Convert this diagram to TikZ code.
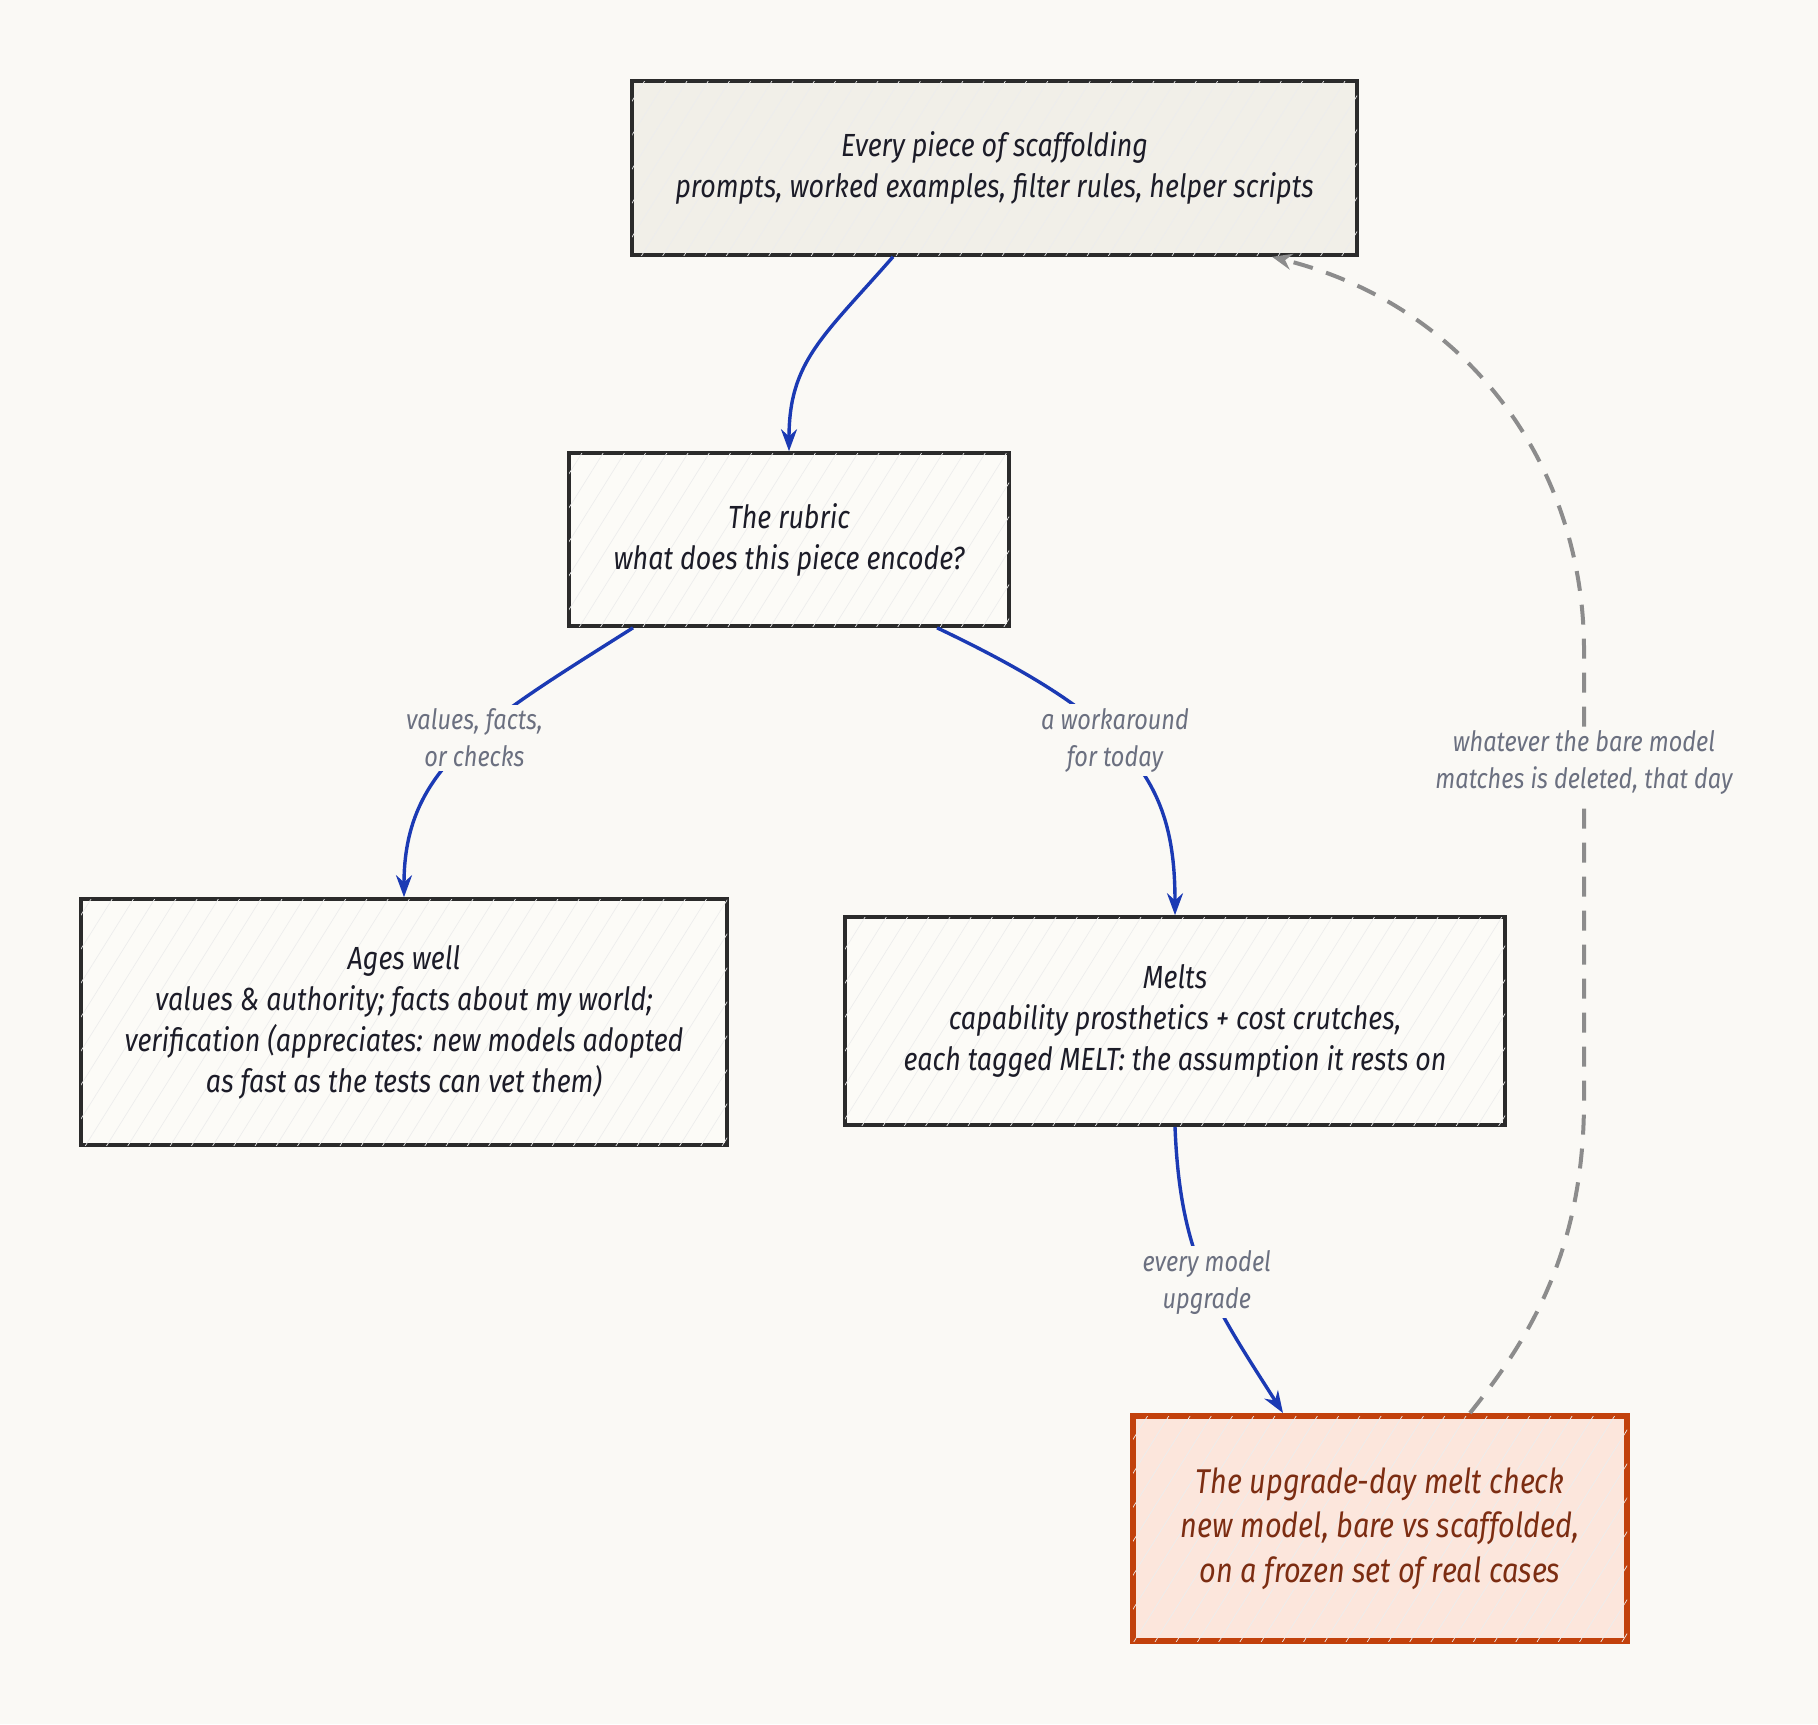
\documentclass[tikz,border=0pt]{standalone}
\usepackage{fontspec}
\usepackage{xcolor}
\usepackage{tikz}
\usetikzlibrary{arrows.meta,patterns.meta}

\newfontfamily\handfont{Fira Sans}[FakeStretch=0.84]
\definecolor{paper}{HTML}{FAF9F5}
\definecolor{ink}{HTML}{1C1C28}
\definecolor{frame}{HTML}{2B2B2B}
\definecolor{topfill}{HTML}{F1EFE8}
\definecolor{boxfill}{HTML}{FCFBF7}
\definecolor{flowblue}{HTML}{1B3AB4}
\definecolor{notegray}{HTML}{6B7080}
\definecolor{loopgray}{HTML}{8C8C8C}
\definecolor{meltline}{HTML}{C2410C}
\definecolor{meltfill}{HTML}{FCE6DC}
\definecolor{meltink}{HTML}{7C2D12}

\begin{document}
\begin{tikzpicture}
		[
			x=0.5pt,y=-0.5pt,
			box/.style={
					draw=frame,line width=1.8pt,fill=boxfill,align=center,text=ink,
					font=\handfont\itshape\fontsize{16}{20.5}\selectfont,
					postaction={pattern color=black!7,pattern={Lines[angle=58,distance=9pt,line width=0.35pt]}}},
			topbox/.style={box,fill=topfill},
			meltbox/.style={box,draw=meltline,line width=3pt,fill=meltfill,text=meltink,
					font=\handfont\itshape\fontsize{17.2}{22.3}\selectfont},
			note/.style={fill=paper,text=notegray,align=center,inner sep=2pt,
					font=\handfont\itshape\fontsize{14}{18.5}\selectfont},
			flow/.style={draw=flowblue,line width=1.7pt,-{Stealth[length=11pt,width=8pt]}},
			loop/.style={draw=loopgray,line width=2pt,dash pattern=on 10pt off 7pt,
					-{Stealth[length=10pt,width=8pt]}}]
		\useasboundingbox (0,0) rectangle (1818,1724);
		\fill[paper] (0,0) rectangle (1818,1724);

		\node[topbox,minimum width=362.5pt,minimum height=87pt] (scaffold) at (994.5,168)
			{Every piece of scaffolding\\prompts, worked examples, filter rules, helper scripts};
		\node[box,minimum width=220pt,minimum height=86.5pt] (rubric) at (789,539.5)
			{The rubric\\what does this piece encode?};
		\node[box,minimum width=323pt,minimum height=123pt] (ageswell) at (404,1022)
			{Ages well\\values \& authority; facts about my world;\\verification (appreciates: new models adopted\\as fast as the tests can vet them)};
		\node[box,minimum width=330pt,minimum height=104pt] (melts) at (1175,1021)
			{Melts\\capability prosthetics + cost crutches,\\each tagged MELT: the assumption it rests on};
		\node[meltbox,minimum width=247pt,minimum height=112.5pt] (meltcheck) at (1380,1528.5)
			{The upgrade-day melt check\\new model, bare vs scaffolded,\\on a frozen set of real cases};

		\draw[flow] ([xshift=-50.75pt]scaffold.south) .. controls +(-70,80) and +(0,-90) .. (rubric.north);
		\draw[flow] ([xshift=-78pt]rubric.south) .. controls +(-150,95) and +(0,-130) ..
			node[note,pos=0.45] (lblkeep) {values, facts,\\or checks} (ageswell.north);
		\draw[flow] ([xshift=74pt]rubric.south) .. controls +(200,95) and +(0,-130) ..
			node[note,pos=0.43] (lbltoday) {a workaround\\for today} (melts.north);
		\draw[flow] (melts.south) .. controls +(5,130) and +(-70,-110) ..
			node[note,pos=0.52] (lblupgrade) {every model\\upgrade} ([xshift=-48.5pt]meltcheck.north);

		% back to the top on upgrade day
		\coordinate (bendlow) at (1584,1100);
		\coordinate (bendhigh) at (1584,650);
		\draw[loop] ([xshift=45pt]meltcheck.north) .. controls +(60,-75) and +(0,150) .. (bendlow)
			-- node[note,pos=0.75] (lbldelete) {whatever the bare model\\matches is deleted, that day} (bendhigh)
			.. controls +(0,-180) and +(200,50) .. ([xshift=138.75pt]scaffold.south);
	\end{tikzpicture}
\end{document}
